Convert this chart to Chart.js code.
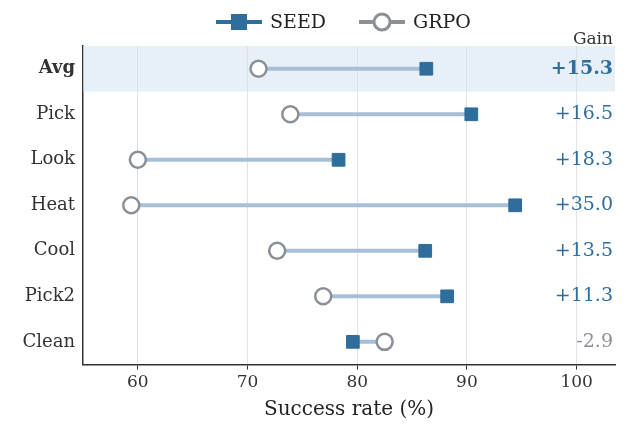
<!DOCTYPE html>
<html><head><meta charset="utf-8">
<script src="https://cdn.jsdelivr.net/npm/chart.js@4"></script>
<style>html,body{margin:0;padding:0;background:#fff}#w{width:629px;height:434px}</style>
</head><body><div id="w"><canvas id="c"></canvas></div>
<script>
const categories = ["Avg","Pick","Look","Heat","Cool","Pick2","Clean"];
const seed = [86.3, 90.4, 78.3, 94.4, 86.2, 88.2, 79.6];
const grpo = [71.0, 73.9, 60.0, 59.4, 72.7, 76.9, 82.5];
const gains = ["+15.3","+16.5","+18.3","+35.0","+13.5","+11.3","-2.9"];
const xTicks = [60,70,80,90,100];
const F = "'DejaVu Serif', serif";
const SEEDC = "#2e6d9c", GRPOC = "#8b9097", LINEC = "#a5c0d6";

const lineData = [];
categories.forEach((c,i)=>{lineData.push({x:grpo[i],y:i},{x:seed[i],y:i},{x:NaN,y:NaN});});

const plug = {
  id:'extra',
  beforeDatasetsDraw(ch){
    const {ctx,chartArea:a,scales:{x,y}} = ch;
    ctx.save();
    ctx.fillStyle = "rgba(214,228,240,0.55)";
    const t = y.getPixelForValue(-0.5), b = y.getPixelForValue(0.5);
    ctx.fillRect(a.left, t, a.right-a.left, b-t);
    ctx.restore();
  },
  afterDraw(ch){
    const {ctx,chartArea:a,scales:{x,y}} = ch;
    ctx.save();
    ctx.textAlign="right"; ctx.textBaseline="middle";
    gains.forEach((g,i)=>{
      const neg = g.startsWith("-");
      ctx.fillStyle = neg ? "#8b9097" : SEEDC;
      ctx.font = (i===0?"bold ":"")+"19px "+F;
      ctx.fillText(g, a.right-2, y.getPixelForValue(i));
    });
    ctx.fillStyle="#333"; ctx.font="17px "+F;
    ctx.fillText("Gain", a.right-2, 40);
    const ly=22;
    ctx.lineWidth=4;
    ctx.strokeStyle=SEEDC; ctx.beginPath(); ctx.moveTo(216,ly); ctx.lineTo(262,ly); ctx.stroke();
    ctx.fillStyle=SEEDC; ctx.fillRect(231,ly-8,16,16);
    ctx.strokeStyle=GRPOC; ctx.beginPath(); ctx.moveTo(359,ly); ctx.lineTo(405,ly); ctx.stroke();
    ctx.fillStyle="#fff"; ctx.lineWidth=3; ctx.beginPath(); ctx.arc(382,ly,8,0,Math.PI*2); ctx.fill(); ctx.stroke();
    ctx.fillStyle="#222"; ctx.textAlign="left"; ctx.font="19px "+F;
    ctx.fillText("SEED",270,ly+1); ctx.fillText("GRPO",413,ly+1);
    ctx.restore();
  }
};

new Chart(document.getElementById('c'),{
  type:'scatter',
  data:{datasets:[
    {data:lineData, order:10, showLine:true, spanGaps:false, borderColor:LINEC, borderWidth:4, pointRadius:0, pointHoverRadius:0},
    {data:grpo.map((v,i)=>({x:v,y:i})), order:2, pointStyle:'circle', pointRadius:8, pointBackgroundColor:'#fff', pointBorderColor:GRPOC, pointBorderWidth:2.5},
    {data:seed.map((v,i)=>({x:v,y:i})), order:1, pointStyle:'rect', pointRadius:9, pointBackgroundColor:SEEDC, pointBorderColor:SEEDC, pointBorderWidth:1}
  ]},
  options:{
    responsive:true, maintainAspectRatio:false, animation:false,
    layout:{padding:{top:46,right:14,left:4,bottom:8}},
    plugins:{legend:{display:false},tooltip:{enabled:false}},
    scales:{
      x:{type:'linear',min:55,max:103.5,
        afterBuildTicks(s){s.ticks=xTicks.map(v=>({value:v}));},
        grid:{color:'#e3e3e3',drawTicks:true,tickColor:'#333',tickLength:5},
        border:{color:'#333',width:1.5},
        ticks:{font:{family:F,size:17},color:'#333'},
        title:{display:true,text:'Success rate (%)',font:{family:F,size:20},color:'#222',padding:{top:2}}},
      y:{type:'linear',min:-0.5,max:6.5,reverse:true,
        afterBuildTicks(s){s.ticks=categories.map((c,i)=>({value:i}));},
        grid:{display:false,drawTicks:true,tickColor:'#333',tickLength:5},
        border:{color:'#333',width:1.5},
        afterFit(s){s.width=79;},
        ticks:{font:(c)=>({family:F,size:18,weight:c.tick&&c.tick.value===0?'bold':'normal'}),color:'#333',
          callback:(v)=>categories[v]}}
    }
  },
  plugins:[plug]
});
</script></body></html>
